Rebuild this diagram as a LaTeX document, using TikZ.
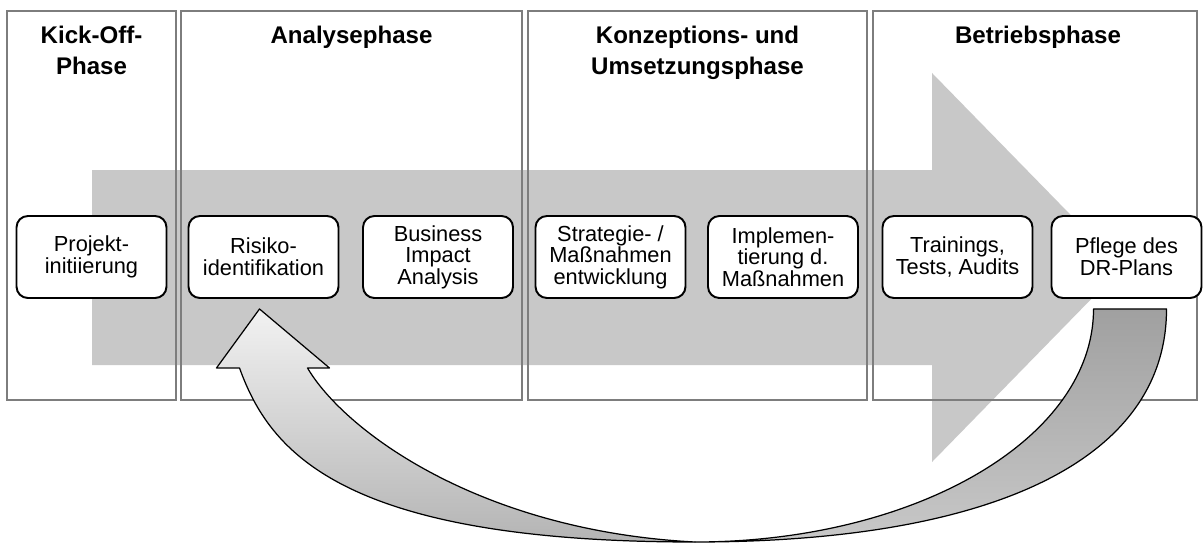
\documentclass[tikz,border=0pt]{standalone}
\usepackage{fontspec}
\setmainfont{Liberation Sans}
\usetikzlibrary{calc}

\definecolor{flowgray}{RGB}{200,200,200}
\definecolor{framegray}{RGB}{125,125,125}

\tikzset{
  phase/.style={draw=framegray, line width=1.4pt},
  phasetitle/.style={anchor=north, inner sep=0pt, align=center,
    font=\fontsize{13.7}{17.6}\selectfont\bfseries},
  task/.style={draw, fill=white, line width=1.1pt, rounded corners=6.5pt,
    minimum width=3cm, minimum height=1.64cm, inner sep=0pt, align=center,
    font=\fontsize{12.4}{12.3}\selectfont},
  backarrow/.style={draw, line width=0.7pt, line join=round}
}

\begin{document}
\begin{tikzpicture}[x=0.2mm, y=-0.2mm]
\useasboundingbox (0,0) rectangle (1203,545);

% big process arrow
\fill[flowgray] (92,170) -- (932,170) -- (932,73) -- (1122,267.5)
  -- (932,462) -- (932,365) -- (92,365) -- cycle;

% phases
\draw[phase] (7,11) rectangle (176,400);
\draw[phase] (181,11) rectangle (522,400);
\draw[phase] (528,11) rectangle (867,400);
\draw[phase] (873,11) rectangle (1197,400);
\node[phasetitle] (kickoff) at (91.5,26) {Kick-Off-\\Phase};
\node[phasetitle] (analyse) at (351.5,26) {Analysephase};
\node[phasetitle] (konzeption) at (697.5,26) {Konzeptions- und\\Umsetzungsphase};
\node[phasetitle] (betrieb) at (1038,26) {Betriebsphase};

% tasks
\node[task] (projekt) at (91.5,257) {Projekt-\\initiierung};
\node[task] (risiko) at (263.5,257) {Risiko-\\identifikation};
\node[task] (bia) at (438,257) {Business\\Impact\\Analysis};
\node[task] (strategie) at (610.5,257) {Strategie- /\\Maßnahmen\\entwicklung};
\node[task] (implement) at (783,257) {Implemen-\\tierung d.\\Maßnahmen};
\node[task] (tests) at (957.5,257) {Trainings,\\Tests, Audits};
\node[task] (pflege) at (1126.5,257) {Pflege des\\DR-Plans};

% loop back arrow
\coordinate (tip) at ($(risiko.south)+(-4,10)$);
\coordinate (tail) at ($(pflege.south)+(3,10)$);
\coordinate (bottom) at (695,542);
\draw[backarrow, top color={rgb,255:red,160;green,160;blue,160},
  bottom color={rgb,255:red,200;green,200;blue,200}]
  ($(tail)+(-36,0)$) -- ($(tail)+(37,0)$)
  .. controls +(0,152) and +(295,0) .. (bottom)
  .. controls +(220,0) and +(0,130) .. ($(tail)+(-36,0)$) -- cycle;
\draw[backarrow, top color={rgb,255:red,242;green,242;blue,242},
  bottom color={rgb,255:red,180;green,180;blue,180}]
  (tip) -- ++(70,59) -- ++(-22,0)
  .. controls +(37,63) and +(-215,-11) .. (bottom)
  .. controls +(-355,0) and +(30,83) .. ($(tip)+(-20,59)$)
  -- ++(-23,0) -- cycle;

\end{tikzpicture}
\end{document}
